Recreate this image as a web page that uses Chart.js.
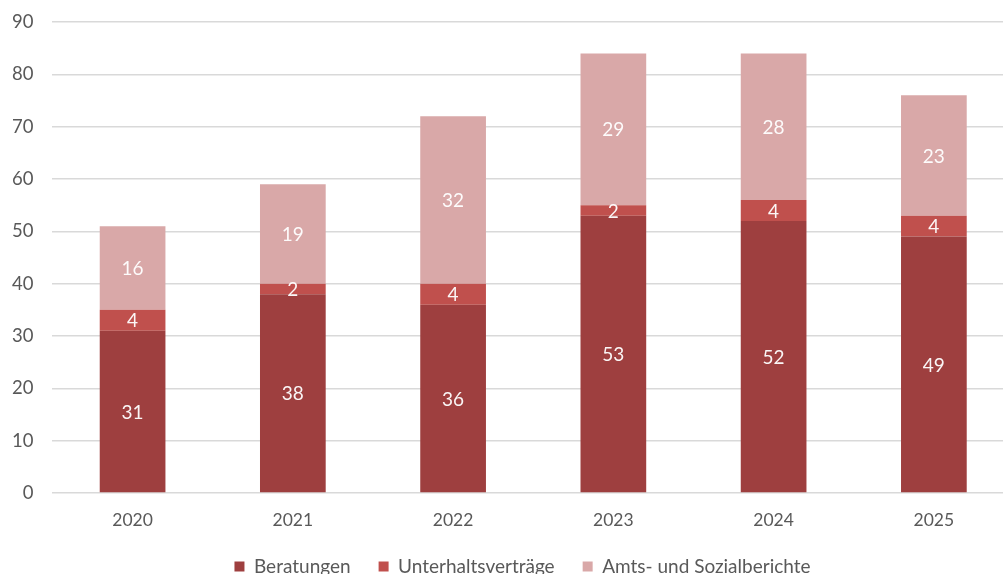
<!DOCTYPE html>
<html>
<head>
<meta charset="utf-8">
<script src="https://cdn.jsdelivr.net/npm/chart.js@4"></script>
<style>
  html, body { margin: 0; padding: 0; overflow: hidden; background: #fff; }
  #wrap { position: relative; width: 1003px; height: 574px; overflow: hidden; }
  #chart { position: absolute; left: -7px; top: -8px; }
</style>
</head>
<body>
<div id="wrap"><canvas id="chart" width="1021" height="613"></canvas></div>
<script>
// Daten aus der Grafik
const jahre = ["2020", "2021", "2022", "2023", "2024", "2025"];
const beratungen = [31, 38, 36, 53, 52, 49];
const unterhaltsvertraege = [4, 2, 4, 2, 4, 4];
const amtsberichte = [16, 19, 32, 29, 28, 23];

const schrift = "Lato, 'Open Sans', sans-serif";

// Werte mittig in die Balken schreiben
const wertePlugin = {
    id: 'werte',
    afterDatasetsDraw(chart) {
        const ctx = chart.ctx;
        ctx.save();
        ctx.font = "19px " + schrift;
        ctx.fillStyle = "rgba(255,255,255,0.95)";
        ctx.textAlign = "center";
        ctx.textBaseline = "middle";
        chart.data.datasets.forEach((ds, i) => {
            const meta = chart.getDatasetMeta(i);
            meta.data.forEach((bar, j) => {
                const mitte = (bar.y + bar.base) / 2;
                ctx.fillText(ds.data[j], bar.x, mitte + 1);
            });
        });
        ctx.restore();
    }
};

// Legende etwas nach oben/rechts ruecken (wie im Original, unten abgeschnitten)
const legendePlugin = {
    id: 'legendeVerschieben',
    afterLayout(chart) {
        const lg = chart.legend;
        if (lg) {
            lg.top -= 19;
            lg.bottom -= 19;
            lg.left += 19;
            lg.right += 19;
        }
    }
};

new Chart(document.getElementById('chart').getContext('2d'), {
    type: 'bar',
    data: {
        labels: jahre,
        datasets: [
            { label: "Beratungen", data: beratungen, backgroundColor: "#9E3F3F" },
            { label: "Unterhaltsverträge", data: unterhaltsvertraege, backgroundColor: "#C0504D" },
            { label: "Amts- und Sozialberichte", data: amtsberichte, backgroundColor: "#D9A8A8" }
        ]
    },
    options: {
        responsive: false,
        animation: false,
        layout: { padding: 0 },
        datasets: { bar: { categoryPercentage: 1, barPercentage: 0.41 } },
        scales: {
            x: {
                stacked: true,
                grid: { display: false, drawTicks: false },
                border: { display: false },
                ticks: { color: "#595959", font: { family: schrift, size: 17.5 }, padding: 17 }
            },
            y: {
                stacked: true,
                min: 0,
                max: 90,
                grid: { color: "#d9d9d9", lineWidth: 1.5, drawTicks: false },
                border: { display: false },
                ticks: { stepSize: 10, color: "#595959", font: { family: schrift, size: 18.5 }, padding: 19 }
            }
        },
        plugins: {
            tooltip: { enabled: false },
            legend: {
                position: 'bottom',
                labels: {
                    color: "#595959",
                    font: { family: schrift, size: 19 },
                    boxWidth: 10,
                    boxHeight: 10,
                    padding: 28
                }
            }
        }
    },
    plugins: [wertePlugin, legendePlugin]
});
</script>
</body>
</html>
